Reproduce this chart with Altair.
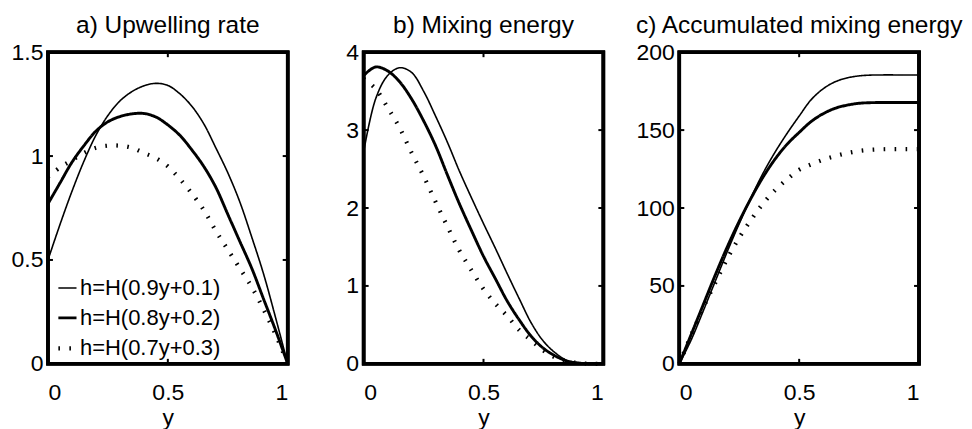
import altair as alt
import pandas as pd

# ---------------- data ----------------
ys = [0.0, 0.05, 0.10, 0.15, 0.20, 0.25, 0.30, 0.35, 0.40, 0.45, 0.50,
      0.55, 0.60, 0.65, 0.70, 0.75, 0.80, 0.85, 0.90, 0.95, 1.0]

series_names = ["h=H(0.9y+0.1)", "h=H(0.8y+0.2)", "h=H(0.7y+0.3)"]

# a) Upwelling rate
a_thin = [0.50, 0.67, 0.83, 0.975, 1.10, 1.195, 1.265, 1.31, 1.338, 1.350, 1.340,
          1.30, 1.24, 1.155, 1.04, 0.92, 0.78, 0.61, 0.43, 0.22, 0.0]
a_thick = [0.77, 0.87, 0.97, 1.05, 1.12, 1.165, 1.19, 1.203, 1.205, 1.188, 1.15,
           1.10, 1.03, 0.95, 0.85, 0.72, 0.59, 0.46, 0.31, 0.16, 0.0]
a_dot = [0.90, 0.945, 0.98, 1.015, 1.04, 1.05, 1.05, 1.04, 1.015, 0.99, 0.95,
         0.89, 0.82, 0.74, 0.64, 0.55, 0.46, 0.37, 0.26, 0.14, 0.0]

# b) Mixing energy
b_thin = [2.72, 3.40, 3.70, 3.80, 3.74, 3.50, 3.18, 2.84, 2.47, 2.13, 1.80,
          1.48, 1.15, 0.83, 0.52, 0.29, 0.14, 0.04, 0.01, 0.0, 0.0]
b_thick = [3.70, 3.81, 3.76, 3.62, 3.40, 3.12, 2.80, 2.42, 2.05, 1.71, 1.38,
           1.09, 0.80, 0.56, 0.35, 0.20, 0.10, 0.035, 0.01, 0.0, 0.0]
b_dot = [3.66, 3.53, 3.29, 3.03, 2.71, 2.41, 2.08, 1.76, 1.45, 1.20, 0.96,
         0.77, 0.61, 0.43, 0.30, 0.17, 0.08, 0.03, 0.01, 0.0, 0.0]

# c) Accumulated mixing energy
c_thin = [0.0, 15.5, 34.0, 53.0, 72.0, 90.0, 107.0, 122.5, 136.0, 148.0, 159.0,
          169.5, 176.5, 181.0, 183.5, 184.8, 185.3, 185.4, 185.4, 185.4, 185.4]
c_thick = [0.0, 19.0, 38.0, 57.0, 75.0, 91.5, 106.5, 120.0, 131.5, 141.0, 148.5,
           155.5, 160.5, 164.0, 166.0, 167.2, 167.6, 167.7, 167.7, 167.7, 167.7]
c_dot = [0.0, 18.5, 36.0, 52.0, 67.5, 81.0, 92.5, 103.0, 111.5, 118.5, 124.5,
         128.0, 131.0, 133.3, 135.2, 136.6, 137.4, 137.7, 137.8, 137.8, 137.8]

titles = ["a) Upwelling rate", "b) Mixing energy", "c) Accumulated mixing energy"]
x_ticks = [0, 0.5, 1]
a_yticks = [0, 0.5, 1, 1.5]
b_yticks = [0, 1, 2, 3, 4]
c_yticks = [0, 50, 100, 150, 200]

# ---------------- layout / style ----------------
W, H = 240, 312
FONT = "Liberation Sans"
TICK_LEN = 5


def long_df(thin, thick, dot):
    rows = []
    for name, vals in zip(series_names, [thin, thick, dot]):
        for x, v in zip(ys, vals):
            rows.append({"x": x, "v": v, "series": name})
    return pd.DataFrame(rows)


def panel(df, title, ymax, yticks, show_legend):
    if show_legend:
        leg = alt.Legend(
            title=None, orient="none", legendX=8, legendY=225,
            labelFont=FONT, labelFontSize=22, labelColor="black",
            symbolType="stroke", symbolSize=330, symbolStrokeColor="black",
            labelOffset=1, rowPadding=8, labelLimit=400, padding=0,
        )
    else:
        leg = None
    xaxis = alt.Axis(values=x_ticks, title="y", labelExpr="datum.value",
                     labelPadding=18, titlePadding=2)
    yaxis = alt.Axis(values=yticks, title=None, labelExpr="datum.value",
                     labelPadding=5)
    xscale = alt.Scale(domain=[0, 1], nice=False)
    yscale = alt.Scale(domain=[0, ymax], nice=False)
    lines = alt.Chart(df).mark_line(color="black", interpolate="catmull-rom").encode(
        x=alt.X("x:Q", scale=xscale, axis=xaxis),
        y=alt.Y("v:Q", scale=yscale, axis=yaxis),
        strokeWidth=alt.StrokeWidth(
            "series:N", sort=series_names,
            scale=alt.Scale(domain=series_names, range=[1.6, 4.2, 1.6]),
            legend=leg),
        strokeDash=alt.StrokeDash(
            "series:N", sort=series_names,
            scale=alt.Scale(domain=series_names, range=[[1, 0], [1, 0], [1.6, 9.4]]),
            legend=leg),
    )
    xt = pd.DataFrame({"x": x_ticks})
    yt = pd.DataFrame({"v": yticks})
    bottom = alt.Chart(xt).mark_rule(color="black", strokeWidth=2).encode(
        x=alt.X("x:Q", scale=xscale, axis=xaxis), y=alt.value(H), y2=alt.value(H - TICK_LEN))
    top = alt.Chart(xt).mark_rule(color="black", strokeWidth=2).encode(
        x=alt.X("x:Q", scale=xscale, axis=xaxis), y=alt.value(0), y2=alt.value(TICK_LEN))
    left = alt.Chart(yt).mark_rule(color="black", strokeWidth=2).encode(
        y=alt.Y("v:Q", scale=yscale, axis=yaxis), x=alt.value(0), x2=alt.value(TICK_LEN))
    right = alt.Chart(yt).mark_rule(color="black", strokeWidth=2).encode(
        y=alt.Y("v:Q", scale=yscale, axis=yaxis), x=alt.value(W), x2=alt.value(W - TICK_LEN))
    frame = alt.Chart(xt).mark_rect(fill=None, stroke="black", strokeWidth=3.5).encode(
        x=alt.value(0), x2=alt.value(W), y=alt.value(0), y2=alt.value(H))
    return alt.layer(lines, bottom, top, left, right, frame).properties(
        width=W, height=H, title=title)


pa = panel(long_df(a_thin, a_thick, a_dot), titles[0], 1.5, a_yticks, True)
pb = panel(long_df(b_thin, b_thick, b_dot), titles[1], 4, b_yticks, False)
pc = panel(long_df(c_thin, c_thick, c_dot), titles[2], 200, c_yticks, False)

chart = alt.hconcat(pa, pb, pc, spacing=76, bounds="flush").resolve_scale(
    strokeWidth="independent", strokeDash="independent"
).resolve_legend(
    strokeWidth="independent", strokeDash="independent"
).properties(
    padding={"left": 3, "top": 4, "right": 0, "bottom": 0},
    background="white",
).configure_view(
    stroke=None
).configure_axis(
    domain=False, ticks=False, grid=False, tickSize=0,
    labelFont=FONT, labelFontSize=23, labelColor="black",
    titleFont=FONT, titleFontSize=23, titleFontWeight="normal", titleColor="black",
).configure_title(
    font=FONT, fontSize=24.5, fontWeight="normal", color="black", offset=3,
    anchor="middle",
)

chart.save("out.html", embed_options={"renderer": "svg", "actions": False})
